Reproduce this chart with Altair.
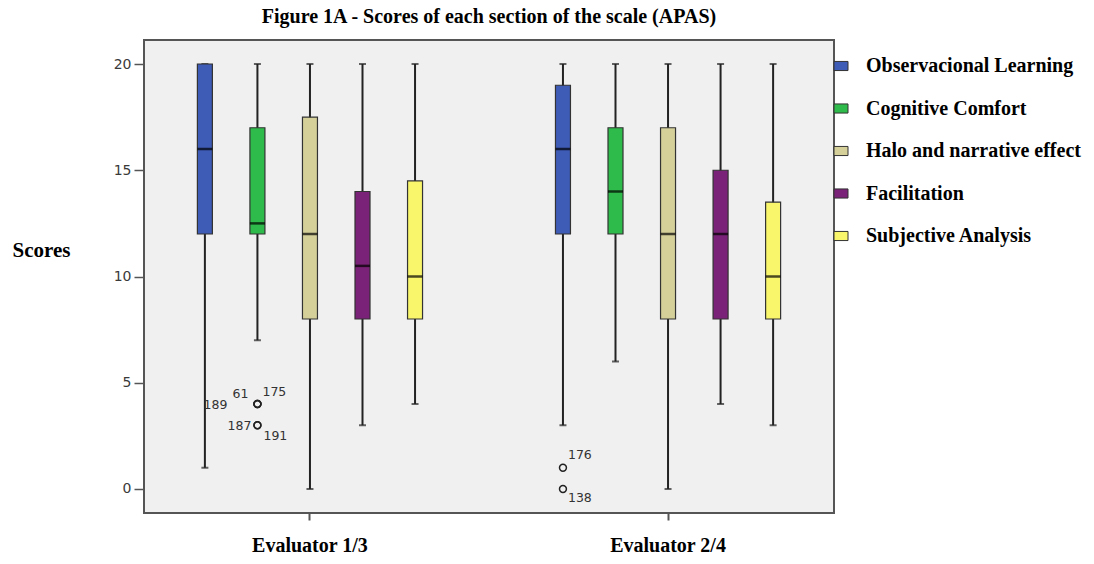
import altair as alt
import pandas as pd

# Sections of the APAS scale and their box colours
sections = [
    "Observacional Learning",
    "Cognitive Comfort",
    "Halo and narrative effect",
    "Facilitation",
    "Subjective Analysis",
]
section_colors = ["#3E5BB6", "#2EBB4B", "#D5D09A", "#7A2277", "#FAF66C"]
evaluators = ["Evaluator 1/3", "Evaluator 2/4"]

# Five-number summaries, one list per evaluator pair (order follows `sections`)
low_13 = [1, 7, 0, 3, 4]
q1_13 = [12, 12, 8, 8, 8]
median_13 = [16, 12.5, 12, 10.5, 10]
q3_13 = [20, 17, 17.5, 14, 14.5]
high_13 = [20, 20, 20, 20, 20]

low_24 = [3, 6, 0, 4, 3]
q1_24 = [12, 12, 8, 8, 8]
median_24 = [16, 14, 12, 12, 10]
q3_24 = [19, 17, 17, 15, 13.5]
high_24 = [20, 20, 20, 20, 20]

# Outlying cases
outlier_evaluator = ["Evaluator 1/3"] * 5 + ["Evaluator 2/4"] * 2
outlier_section = ["Cognitive Comfort"] * 5 + ["Observacional Learning"] * 2
outlier_value = [4, 4, 4, 3, 3, 1, 0]
outlier_case = ["189", "61", "175", "187", "191", "176", "138"]

# Where each case number sits around its circle: (dx, dy, align)
case_label_place = {
    "189": (-30, 1, "right"),
    "61": (-17, -10, "center"),
    "175": (5, -12, "left"),
    "187": (-6, 1, "right"),
    "191": (6, 11, "left"),
    "176": (5, -13, "left"),
    "138": (5, 9, "left"),
}

rows = []
for ev, lo, a, m, b, hi in [
    (evaluators[0], low_13, q1_13, median_13, q3_13, high_13),
    (evaluators[1], low_24, q1_24, median_24, q3_24, high_24),
]:
    for i, s in enumerate(sections):
        rows.append(dict(evaluator=ev, section=s, low=lo[i], q1=a[i],
                         median=m[i], q3=b[i], high=hi[i]))
stats = pd.DataFrame(rows)

outliers = pd.DataFrame(dict(evaluator=outlier_evaluator, section=outlier_section,
                             value=outlier_value, case=outlier_case))

x_enc = alt.X(
    "evaluator:N",
    scale=alt.Scale(domain=evaluators, paddingInner=0.1, paddingOuter=0.0135),
    axis=alt.Axis(title=None, labelAngle=0, labelFont="Liberation Serif",
                  labelFontSize=20, labelFontWeight="bold", labelColor="black",
                  tickSize=7, tickWidth=2, tickColor="#555555", labelPadding=15),
)
xoff_enc = alt.XOffset(
    "section:N",
    scale=alt.Scale(domain=sections, paddingInner=0, paddingOuter=0.567),
)
y_scale = alt.Scale(domain=[-1.13, 21.13], nice=False, zero=False)
y_axis = alt.Axis(
    title="Scores", values=[0, 5, 10, 15, 20], titleAngle=0,
    titleFont="Liberation Serif", titleFontSize=21, titleFontWeight="bold",
    titleColor="black", titleX=-132, titleY=210, titleAlign="left",
    titleBaseline="middle", labelFont="DejaVu Sans", labelFontSize=14,
    labelColor="#3A3A3A", tickSize=10, tickColor="#555555", tickWidth=1.5,
    labelPadding=3,
)


def y(field):
    return alt.Y(f"{field}:Q", scale=y_scale, axis=y_axis)


base = alt.Chart(stats).encode(x=x_enc, xOffset=xoff_enc)

whiskers = base.mark_rule(color="#222222", strokeWidth=2).encode(
    y=y("low"), y2="high:Q"
)
caps_low = base.mark_tick(color="#222222", size=7, thickness=2).encode(y=y("low"))
caps_high = base.mark_tick(color="#222222", size=7, thickness=2).encode(y=y("high"))

boxes = base.mark_bar(size=15, stroke="#333333", strokeWidth=1.2, opacity=1).encode(
    y=y("q1"),
    y2="q3:Q",
    color=alt.Color(
        "section:N",
        scale=alt.Scale(domain=sections, range=section_colors),
        sort=sections,
        legend=alt.Legend(
            title=None, orient="none", legendX=687, legendY=16,
            symbolType="M-1,-0.65H1V0.65H-1Z", symbolSize=196,
            symbolStrokeColor="#333333", symbolStrokeWidth=1, symbolOpacity=1,
            labelFont="Liberation Serif", labelFontSize=20,
            labelFontWeight="bold", labelColor="black", labelOffset=15,
            rowPadding=22.5, padding=0, labelLimit=400,
        ),
    ),
)
medians = base.mark_tick(color="#000000", size=15, thickness=2.5).encode(y=y("median"))

obase = alt.Chart(outliers).encode(x=x_enc, xOffset=xoff_enc, y=y("value"))
circles = obase.mark_point(shape="circle", filled=False, size=48,
                           color="#222222", strokeWidth=1.5, opacity=1)

labels = []
for case, (dx, dy, align) in case_label_place.items():
    labels.append(
        obase.transform_filter(alt.datum.case == case)
        .mark_text(dx=dx, dy=dy, align=align, baseline="middle",
                   font="DejaVu Sans", fontSize=12.5, color="#333333")
        .encode(text="case:N")
    )

chart = (
    alt.layer(whiskers, caps_low, caps_high, boxes, medians, circles, *labels)
    .properties(
        width=690,
        height=473,
        autosize=alt.AutoSizeParams(type="none"),
        padding={"left": 144, "top": 40, "right": 260, "bottom": 51},
        title=alt.TitleParams(
            "Figure 1A - Scores of each section of the scale (APAS)",
            font="Liberation Serif", fontSize=20, fontWeight="bold",
            color="black", anchor="middle", offset=13,
        ),
        background="white",
    )
    .configure_view(fill="#F0F0F0", stroke="#555555", strokeWidth=2)
    .configure_axis(grid=False, domain=False)
)

chart.save("out.html", embed_options={"renderer": "svg", "actions": False})
